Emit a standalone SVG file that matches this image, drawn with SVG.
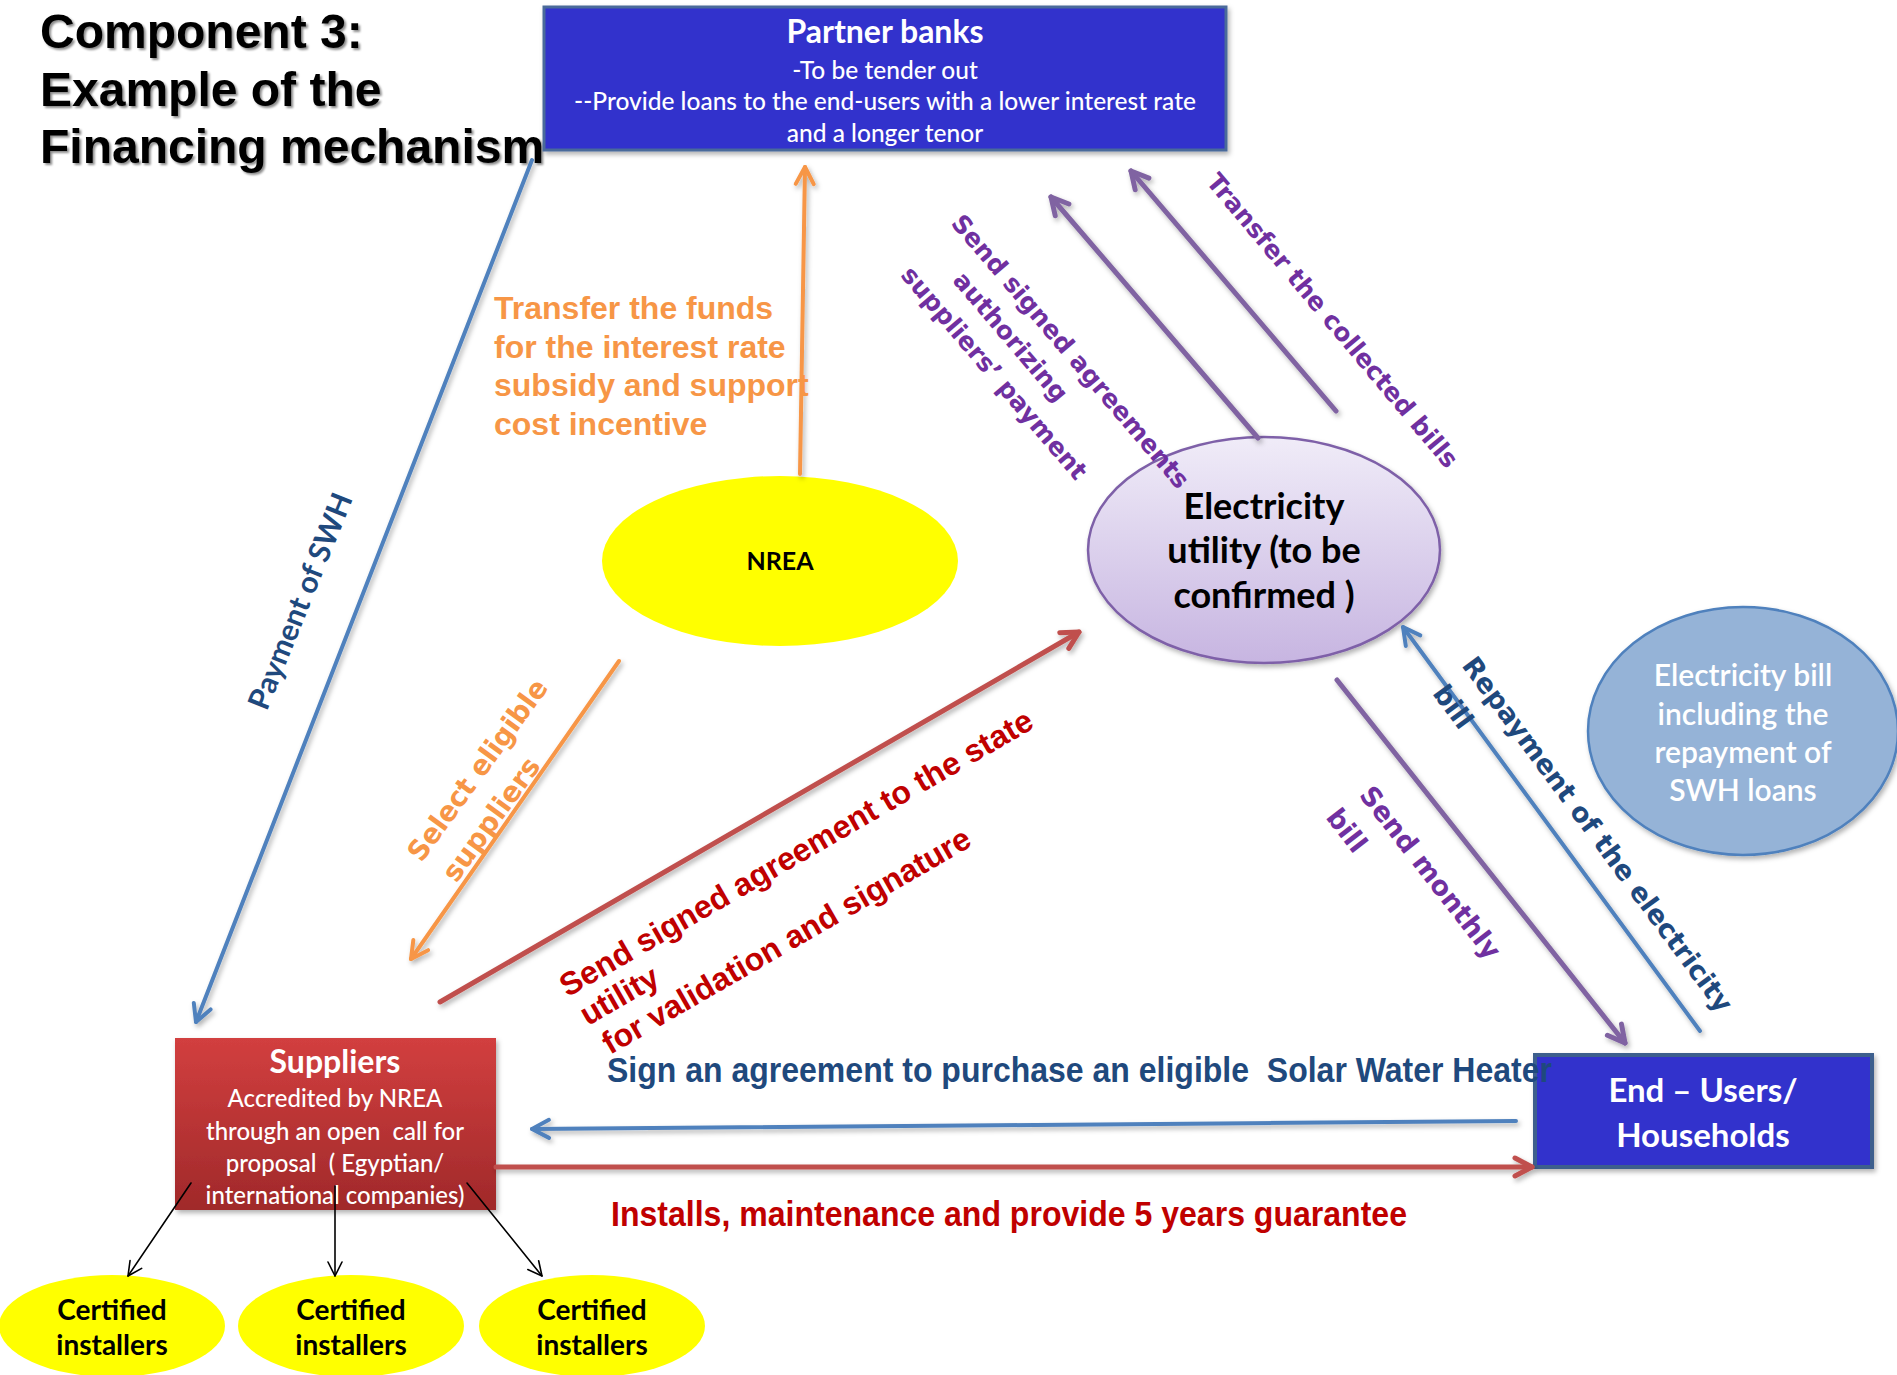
<svg xmlns="http://www.w3.org/2000/svg" width="1897" height="1375" viewBox="0 0 1897 1375">
<defs>
<style>
.title{font-family:"Liberation Sans",Arial,sans-serif;font-weight:bold;font-size:48px;fill:#000}
.cal{font-family:Lato,"Open Sans",sans-serif}
.w{fill:#fff}
.m{font-weight:500}
.b{font-weight:bold}
.ver{font-family:"DejaVu Sans",Verdana,sans-serif;font-weight:bold}
.ar{font-family:"Liberation Sans",Arial,sans-serif;font-weight:bold}
.nar{font-family:"Liberation Sans Narrow","Liberation Sans",Arial,sans-serif;font-weight:bold}
.ln{fill:none;stroke-linecap:round}
.bl{stroke:#4F81BD;stroke-width:4}
.or{stroke:#F79646;stroke-width:4}
.pu{stroke:#8064A2;stroke-width:5}
.rd{stroke:#C0504D;stroke-width:5}
.bk{stroke:#000;stroke-width:1.6}
</style>
<filter id="ts" x="-5%" y="-20%" width="110%" height="140%"><feDropShadow dx="2" dy="2" stdDeviation="1.2" flood-color="#000" flood-opacity="0.45"/></filter>
<filter id="sh" x="-10%" y="-10%" width="125%" height="130%"><feDropShadow dx="2" dy="3" stdDeviation="2.5" flood-color="#000" flood-opacity="0.3"/></filter>
<linearGradient id="gSup" x1="0" y1="0" x2="0" y2="1"><stop offset="0" stop-color="#D23F3F"/><stop offset="1" stop-color="#A0292A"/></linearGradient>
<linearGradient id="gEl" x1="0" y1="0" x2="0" y2="1"><stop offset="0" stop-color="#F0ECF8"/><stop offset="1" stop-color="#C7B5E1"/></linearGradient>
<marker id="mB" viewBox="0 0 24 24" refX="21" refY="12" markerWidth="24" markerHeight="24" markerUnits="userSpaceOnUse" orient="auto" overflow="visible"><path d="M4,3 L21,12 L4,21" fill="none" stroke="#4F81BD" stroke-width="4" stroke-linecap="round" stroke-linejoin="round"/></marker>
<marker id="mO" viewBox="0 0 24 24" refX="21" refY="12" markerWidth="24" markerHeight="24" markerUnits="userSpaceOnUse" orient="auto" overflow="visible"><path d="M4,3 L21,12 L4,21" fill="none" stroke="#F79646" stroke-width="4" stroke-linecap="round" stroke-linejoin="round"/></marker>
<marker id="mP" viewBox="0 0 24 24" refX="21" refY="12" markerWidth="24" markerHeight="24" markerUnits="userSpaceOnUse" orient="auto" overflow="visible"><path d="M4,3 L21,12 L4,21" fill="none" stroke="#8064A2" stroke-width="5" stroke-linecap="round" stroke-linejoin="round"/></marker>
<marker id="mR" viewBox="0 0 24 24" refX="21" refY="12" markerWidth="24" markerHeight="24" markerUnits="userSpaceOnUse" orient="auto" overflow="visible"><path d="M4,3 L21,12 L4,21" fill="none" stroke="#C0504D" stroke-width="5" stroke-linecap="round" stroke-linejoin="round"/></marker>
<marker id="mK" viewBox="0 0 16 16" refX="15" refY="8" markerWidth="16" markerHeight="16" markerUnits="userSpaceOnUse" orient="auto" overflow="visible"><path d="M1,1 L15,8 L1,15" fill="none" stroke="#000" stroke-width="1.6" stroke-linecap="round" stroke-linejoin="round"/></marker>
</defs>
<rect width="1897" height="1375" fill="#fff"/>

<g id="title" filter="url(#ts)">
<text class="title" x="40" y="48">Component 3:</text>
<text class="title" x="40" y="106">Example of the</text>
<text class="title" x="40" y="163">Financing mechanism</text>
</g>

<g id="partner-banks">
<rect x="544" y="7" width="682" height="143" fill="#3333CC" stroke="#4A6A9A" stroke-width="3" filter="url(#sh)"/>
<text class="cal b w" x="885" y="43" font-size="32" text-anchor="middle">Partner banks</text>
<text class="cal m w" font-size="24.5" text-anchor="middle"><tspan x="885" y="79">-To be tender out</tspan><tspan x="885" y="110">--Provide loans to the end-users with a lower interest rate</tspan><tspan x="885" y="142">and a longer tenor</tspan></text>
</g>

<g id="nrea">
<ellipse cx="780" cy="561" rx="178" ry="85" fill="#FFFF00"/>
<text class="cal b" x="780" y="570" font-size="25" text-anchor="middle">NREA</text>
</g>

<g id="electricity-utility">
<ellipse cx="1264" cy="550" rx="176" ry="113" fill="url(#gEl)" stroke="#7E60A8" stroke-width="2.5" filter="url(#sh)"/>
<text class="cal b" font-size="36" text-anchor="middle"><tspan x="1264" y="519">Electricity</tspan><tspan x="1264" y="563">utility (to be</tspan><tspan x="1264" y="608">confirmed )</tspan></text>
</g>

<g id="electricity-bill">
<ellipse cx="1743" cy="731" rx="155" ry="124" fill="#95B3D7" stroke="#4F81BD" stroke-width="2.5" filter="url(#sh)"/>
<text class="cal w" font-size="30" font-weight="600" text-anchor="middle"><tspan x="1743" y="686">Electricity bill</tspan><tspan x="1743" y="725">including the</tspan><tspan x="1743" y="763">repayment of</tspan><tspan x="1743" y="801">SWH loans</tspan></text>
</g>

<g id="suppliers">
<rect x="175" y="1038" width="321" height="172" fill="url(#gSup)" filter="url(#sh)"/>
<text class="cal b w" x="335" y="1073" font-size="32" text-anchor="middle">Suppliers</text>
<text class="cal m w" font-size="24" text-anchor="middle" xml:space="preserve"><tspan x="335" y="1107">Accredited by NREA</tspan><tspan x="335" y="1140">through an open  call for</tspan><tspan x="335" y="1172">proposal  ( Egyptian/</tspan><tspan x="335" y="1204">international companies)</tspan></text>
</g>

<g id="end-users">
<rect x="1535" y="1055" width="337" height="112" fill="#3333CC" stroke="#3D5F8D" stroke-width="4" filter="url(#sh)"/>
<text class="cal b w" font-size="33" text-anchor="middle"><tspan x="1703" y="1102">End – Users/</tspan><tspan x="1703" y="1147">Households</tspan></text>
</g>

<g id="installer-1">
<ellipse cx="112" cy="1326" rx="113" ry="51" fill="#FFFF00"/>
<text class="cal b" font-size="28" text-anchor="middle"><tspan x="112" y="1320">Certified</tspan><tspan x="112" y="1355">installers</tspan></text>
</g>
<g id="installer-2">
<ellipse cx="351" cy="1326" rx="113" ry="51" fill="#FFFF00"/>
<text class="cal b" font-size="28" text-anchor="middle"><tspan x="351" y="1320">Certified</tspan><tspan x="351" y="1355">installers</tspan></text>
</g>
<g id="installer-3">
<ellipse cx="592" cy="1326" rx="113" ry="51" fill="#FFFF00"/>
<text class="cal b" font-size="28" text-anchor="middle"><tspan x="592" y="1320">Certified</tspan><tspan x="592" y="1355">installers</tspan></text>
</g>

<g id="connectors">
<g id="connector-lines" filter="url(#sh)">
<line class="ln bl" x1="532" y1="160" x2="196" y2="1022" marker-end="url(#mB)"/>
<line class="ln or" x1="800" y1="474" x2="805" y2="167" marker-end="url(#mO)"/>
<line class="ln pu" x1="1258" y1="438" x2="1051" y2="197" marker-end="url(#mP)"/>
<line class="ln pu" x1="1336" y1="411" x2="1131" y2="171" marker-end="url(#mP)"/>
<line class="ln or" x1="619" y1="661" x2="411" y2="959" marker-end="url(#mO)"/>
<line class="ln rd" x1="440" y1="1002" x2="1079" y2="632" marker-end="url(#mR)"/>
<line class="ln bl" x1="1700" y1="1031" x2="1403" y2="627" marker-end="url(#mB)"/>
<line class="ln pu" x1="1337" y1="680" x2="1625" y2="1043" marker-end="url(#mP)"/>
<line class="ln bl" x1="1516" y1="1121" x2="532" y2="1129" marker-end="url(#mB)"/>
<line class="ln rd" x1="496" y1="1167" x2="1532" y2="1167" marker-end="url(#mR)"/>
</g>
<g id="installer-arrows">
<line class="ln bk" x1="191" y1="1183" x2="128" y2="1276" marker-end="url(#mK)"/>
<line class="ln bk" x1="335" y1="1186" x2="335" y2="1276" marker-end="url(#mK)"/>
<line class="ln bk" x1="467" y1="1183" x2="542" y2="1276" marker-end="url(#mK)"/>
</g>
<g id="connector-labels">
<text class="cal" font-size="30" font-weight="bold" fill="#1F497D" text-anchor="middle" transform="translate(310 605) rotate(-68)">Payment of SWH</text>
<text class="ar" font-size="32" fill="#F79646"><tspan x="494" y="319">Transfer the funds</tspan><tspan x="494" y="358">for the interest rate</tspan><tspan x="494" y="396">subsidy and support</tspan><tspan x="494" y="435">cost incentive</tspan></text>
<text class="ver" font-size="25" fill="#7030A0" text-anchor="middle" transform="translate(1326 326) rotate(50)">Transfer the collected bills</text>
<g class="ver" font-size="25" fill="#7030A0" text-anchor="middle" transform="translate(1064 357) rotate(49.5)">
<text x="0" y="0">Send signed agreements</text>
<text x="-50" y="36">authorizing</text>
<text x="-33" y="72">suppliers’ payment</text>
</g>
<g class="ver" font-size="27" fill="#1F497D" transform="translate(1590 840) rotate(53.5)">
<text x="-217" y="0">Repayment of the electricity</text>
<text x="-212" y="40">bill</text>
</g>
<g class="ver" font-size="27" fill="#7030A0" transform="translate(1426 882) rotate(52)">
<text x="-110" y="0">Send monthly</text>
<text x="-113" y="40">bill</text>
</g>
<g class="ver" font-size="28" fill="#F79646" transform="translate(485 776) rotate(-54)">
<text x="-108" y="0" textLength="217" lengthAdjust="spacingAndGlyphs">Select eligible</text>
<text x="-104" y="40">suppliers</text>
</g>
<g class="ar" font-size="32" fill="#C00000" transform="translate(804 861) rotate(-30)">
<text x="-273" y="0">Send signed agreement to the state</text>
<text x="-270" y="35">utility</text>
<text x="-265" y="71">for validation and signature</text>
</g>
<text class="nar" x="607" y="1082" font-size="35" fill="#1F497D" textLength="945" lengthAdjust="spacingAndGlyphs" xml:space="preserve">Sign an agreement to purchase an eligible  Solar Water Heater</text>
<text class="nar" x="611" y="1226" font-size="35" fill="#C00000" textLength="796" lengthAdjust="spacingAndGlyphs">Installs, maintenance and provide 5 years guarantee</text>
</g>
</g>
</svg>
